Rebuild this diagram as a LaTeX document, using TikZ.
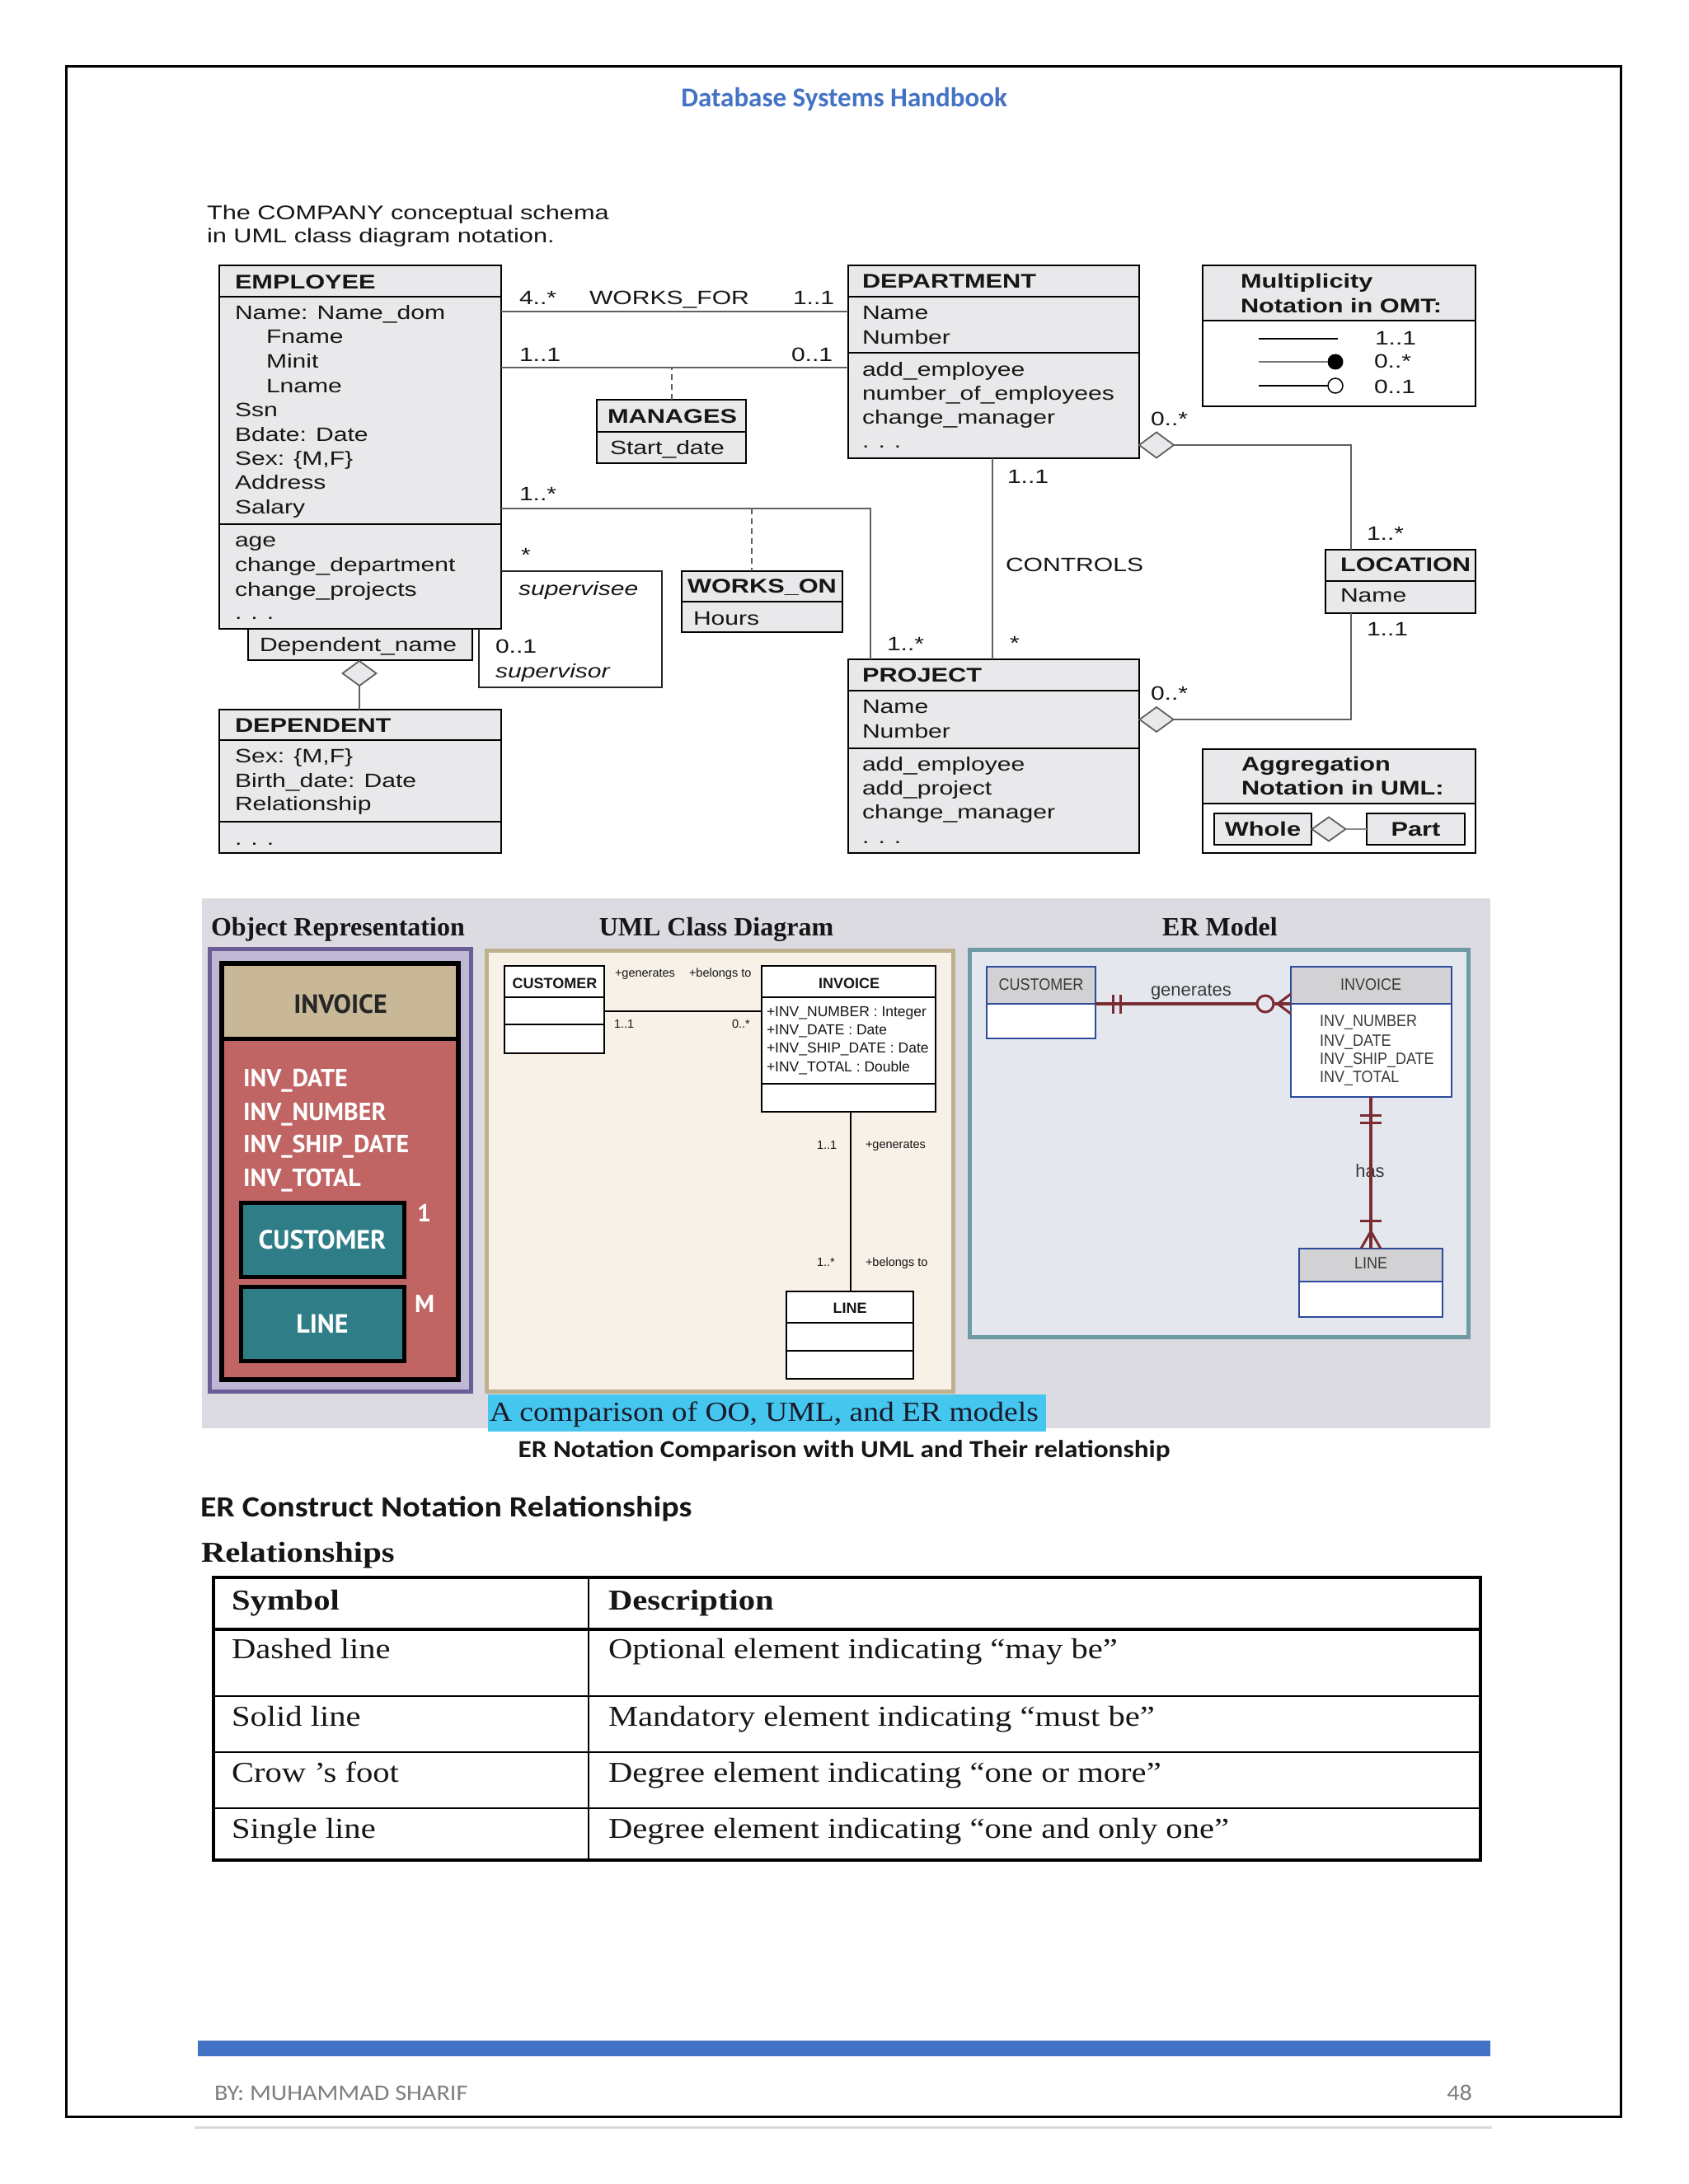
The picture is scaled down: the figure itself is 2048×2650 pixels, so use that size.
\documentclass[tikz,border=0pt]{standalone}
\usepackage{fontspec}
\usetikzlibrary{shapes.geometric}
\setmainfont{Liberation Sans}
\newfontfamily\umlf[FakeStretch=1.28]{Liberation Sans}
\newfontfamily\arf{Liberation Sans}
\newfontfamily\erf[FakeStretch=0.9]{Liberation Sans}
\newfontfamily\serf{Liberation Serif}
\newfontfamily\capf[FakeStretch=1.12]{Liberation Serif}
\newfontfamily\tabf[FakeStretch=1.16]{Liberation Serif}
\newfontfamily\calf{Carlito}
\newfontfamily\calw[FakeStretch=1.12]{Carlito}
\newfontfamily\optf{PT Sans}
\newcommand\fsz[1]{\fontsize{#1}{#1}\selectfont}
\definecolor{umlgray}{HTML}{E9E9EB}
\definecolor{lgray}{HTML}{606060}
\definecolor{txt}{HTML}{161616}
\definecolor{hdrblue}{HTML}{4472C4}
\definecolor{panelbg}{HTML}{DCDBE1}
\definecolor{purpfr}{HTML}{6B5D96}
\definecolor{lav}{HTML}{BEB8D4}
\definecolor{tanc}{HTML}{C8B898}
\definecolor{redb}{HTML}{C06564}
\definecolor{tealc}{HTML}{2F7E87}
\definecolor{cream}{HTML}{F7F1E7}
\definecolor{tanfr}{HTML}{BFB08E}
\definecolor{erbg}{HTML}{E4E8EE}
\definecolor{erfr}{HTML}{6E9AA3}
\definecolor{erblue}{HTML}{2D4B9A}
\definecolor{erhdr}{HTML}{D2D2D4}
\definecolor{erred}{HTML}{7A2C33}
\definecolor{ertxt}{HTML}{3A3A3A}
\definecolor{capblue}{HTML}{45C6EF}
\definecolor{captxt}{HTML}{1A1A2A}
\definecolor{footgray}{HTML}{7F7F7F}
\definecolor{rulegray}{HTML}{D9D9D9}
\tikzset{
  every node/.style={inner sep=0pt, outer sep=0pt, text=txt},
  tl/.style={anchor=base west},
  tc/.style={anchor=base},
  ur/.style={font=\umlf\fsz{23.5}},
  ui/.style={font=\umlf\itshape\fsz{23.5}},
  ub/.style={font=\umlf\bfseries\fsz{24}},
  cls/.style={draw=black, line width=2.2, fill=umlgray, anchor=north west},
  sepl/.style={line width=2.2},
  conn/.style={draw=lgray, line width=2},
  dconn/.style={draw=lgray, line width=2, dash pattern=on 7pt off 5pt},
  agg/.style={draw=lgray, line width=1.8, fill=umlgray, diamond, minimum width=42, minimum height=31},
  ucls/.style={draw=black, line width=2, fill=white, anchor=north west},
  ubt/.style={font=\arf\bfseries\fsz{18}},
  uat/.style={font=\arf\fsz{17.5}},
  usm/.style={font=\arf\fsz{14.5}},
  ent/.style={draw=erblue, line width=2.5, anchor=north west},
  ert/.style={font=\erf\fsz{20}, text=ertxt},
  erl/.style={draw=erred, line width=3.5},
  ob/.style={font=\optf\bfseries\fsz{30}, text=white},
  tabt/.style={font=\tabf\fsz{35}, anchor=base west},
  tabb/.style={font=\tabf\bfseries\fsz{35}, anchor=base west},
}
\newcommand\bx[6][]{\node[cls,#1,minimum width={#4-#2},minimum height={#5-#3}] (#6) at (#2,#3) {};}
\begin{document}
\begin{tikzpicture}[x=1pt,y=-1pt]
\useasboundingbox (0,0) rectangle (2048,2650);
\fill[white] (0,0) rectangle (2048,2650);
\draw[line width=3] (80,80) rectangle (1966,2568);
\node[tc, font=\calf\bfseries\fsz{33}, text=hdrblue] (hdr) at (1024,129) {Database Systems Handbook};

% ---------------- top UML diagram ----------------
\node[tl, font=\umlf\fsz{24}] (cap1) at (251,266) {The COMPANY conceptual schema};
\node[tl, font=\umlf\fsz{24}] (cap2) at (251,294) {in UML class diagram notation.};

% EMPLOYEE
\bx{266}{322}{608}{763}{emp}
\draw[sepl] (emp.west|-0,360) -- (emp.east|-0,360);
\draw[sepl] (emp.west|-0,636) -- (emp.east|-0,636);
\node[ub,tl] (empT) at (285,350) {EMPLOYEE};
\node[ur,tl] (e1) at (285,387) {Name: Name\_dom};
\node[ur,tl] (e2) at (323,416) {Fname};
\node[ur,tl] (e3) at (323,446) {Minit};
\node[ur,tl] (e4) at (323,476) {Lname};
\node[ur,tl] (e5) at (285,505) {Ssn};
\node[ur,tl] (e6) at (285,535) {Bdate: Date};
\node[ur,tl] (e7) at (285,564) {Sex: \{M,F\}};
\node[ur,tl] (e8) at (285,593) {Address};
\node[ur,tl] (e9) at (285,623) {Salary};
\node[ur,tl] (e10) at (285,663) {age};
\node[ur,tl] (e11) at (285,693) {change\_department};
\node[ur,tl] (e12) at (285,723) {change\_projects};
\node[ur,tl] (e13) at (285,751) {. . .};

% Dependent_name qualifier + DEPENDENT
\bx{301}{763}{573}{801}{depn}
\node[ur,tl] (depnT) at (315,790) {Dependent\_name};
\node[agg, minimum width=41, minimum height=30] (dg) at (436,817) {};
\bx{266}{861}{608}{1035}{dep}
\draw[conn] (dg.south) -- (dg.south|-dep.north);
\draw[sepl] (dep.west|-0,898) -- (dep.east|-0,898);
\draw[sepl] (dep.west|-0,997) -- (dep.east|-0,997);
\node[ub,tl] (depT) at (285,888) {DEPENDENT};
\node[ur,tl] (d1) at (285,925) {Sex: \{M,F\}};
\node[ur,tl] (d2) at (285,955) {Birth\_date: Date};
\node[ur,tl] (d3) at (285,983) {Relationship};
\node[ur,tl] (d4) at (285,1025) {. . .};

% DEPARTMENT
\bx{1029}{322}{1382}{556}{dept}
\draw[sepl] (dept.west|-0,360) -- (dept.east|-0,360);
\draw[sepl] (dept.west|-0,428) -- (dept.east|-0,428);
\node[ub,tl] (deptT) at (1046,349) {DEPARTMENT};
\node[ur,tl] (p1) at (1046,387) {Name};
\node[ur,tl] (p2) at (1046,417) {Number};
\node[ur,tl] (p3) at (1046,456) {add\_employee};
\node[ur,tl] (p4) at (1046,485) {number\_of\_employees};
\node[ur,tl] (p5) at (1046,514) {change\_manager};
\node[ur,tl] (p6) at (1046,543) {. . .};

% PROJECT
\bx{1029}{800}{1382}{1035}{proj}
\draw[sepl] (proj.west|-0,838) -- (proj.east|-0,838);
\draw[sepl] (proj.west|-0,908) -- (proj.east|-0,908);
\node[ub,tl] (projT) at (1046,827) {PROJECT};
\node[ur,tl] (q1) at (1046,865) {Name};
\node[ur,tl] (q2) at (1046,895) {Number};
\node[ur,tl] (q3) at (1046,935) {add\_employee};
\node[ur,tl] (q4) at (1046,964) {add\_project};
\node[ur,tl] (q5) at (1046,993) {change\_manager};
\node[ur,tl] (q6) at (1046,1023) {. . .};

% MANAGES, WORKS_ON association classes
\bx{724}{485}{905}{562}{mgr}
\draw[sepl] (mgr.west|-0,524) -- (mgr.east|-0,524);
\node[ub,tl] (mgrT) at (737,513) {MANAGES};
\node[ur,tl] (mgrA) at (740,551) {Start\_date};
\bx{827}{693}{1022}{767}{won}
\draw[sepl] (won.west|-0,730) -- (won.east|-0,730);
\node[ub,tl] (wonT) at (834,719) {WORKS\_ON};
\node[ur,tl] (wonA) at (841,758) {Hours};

% LOCATION
\bx{1608}{667}{1790}{744}{loc}
\draw[sepl] (loc.west|-0,705) -- (loc.east|-0,705);
\node[ub,tl] (locT) at (1626,693) {LOCATION};
\node[ur,tl] (locA) at (1626,730) {Name};

% aggregation diamonds
\node[agg] (dag) at (1403,540) {};
\node[agg, minimum width=41, minimum height=30] (pag) at (1403,873) {};

% associations
\draw[conn] (emp.east|-0,378) -- (dept.west|-0,378);
\node[ur,tl] (wf1) at (630,369) {4..*};
\node[ur,tl] (wf2) at (715,369) {WORKS\_FOR};
\node[ur,tl] (wf3) at (962,369) {1..1};
\draw[conn] (emp.east|-0,446) -- (dept.west|-0,446);
\node[ur,tl] (mg1) at (630,438) {1..1};
\node[ur,tl] (mg2) at (960,438) {0..1};
\draw[dconn] (mgr.north) -- (mgr.north|-0,446);
\draw[conn] (emp.east|-0,617) -| (proj.north-|1056,0);
\node[ur,tl] (wo1) at (630,607) {1..*};
\node[ur,tl] (wo2) at (1076,789) {1..*};
\coordinate (wod) at (912,617);
\draw[dconn] (wod) -- (won.north-|wod);
\coordinate (supc) at (803,834);
\draw[draw=black!85, line width=1.6] (emp.east|-0,693) -| (supc) -| (emp.south-|581,0);
\node[ur] (sv0) at (638,673) {*};
\node[ui,tl] (sv1) at (629,722) {supervisee};
\node[ur,tl] (sv2) at (601,792) {0..1};
\node[ui,tl] (sv3) at (601,822) {supervisor};
\draw[conn] (dept.south-|1204,0) -- (proj.north-|1204,0);
\node[ur,tl] (ct1) at (1222,586) {1..1};
\node[ur,tl] (ct2) at (1220,693) {CONTROLS};
\node[ur] (ct3) at (1231,780) {*};
\draw[conn] (dag.east) -| (loc.north-|1639,0);
\draw[conn] (pag.east) -| (loc.south-|1639,0);
\node[ur,tl] (lc1) at (1396,516) {0..*};
\node[ur,tl] (lc2) at (1658,655) {1..*};
\node[ur,tl] (lc3) at (1658,771) {1..1};
\node[ur,tl] (lc4) at (1396,849) {0..*};

% Multiplicity legend
\fill[umlgray] (1459,322) rectangle (1790,389);
\bx[fill=none]{1459}{322}{1790}{493}{mult}
\draw[sepl] (mult.west|-0,389) -- (mult.east|-0,389);
\node[ub,tl] (mu1) at (1505,349) {Multiplicity};
\node[ub,tl] (mu2) at (1505,379) {Notation in OMT:};
\coordinate (ml1) at (1527,411);
\coordinate (ml2) at (1527,439);
\coordinate (ml3) at (1527,468);
\draw[line width=1.6] (ml1) -- (1623,411);
\node[circle, fill=black, minimum size=19] (fcirc) at (1620,439) {};
\draw[line width=1.8, draw=black!55] (ml2) -- (fcirc.west);
\node[circle, draw=black, line width=1.5, fill=white, minimum size=18] (ocirc) at (1620,468) {};
\draw[line width=1.6] (ml3) -- (ocirc.west);
\node[ur,tl] (mt1) at (1668,418) {1..1};
\node[ur,tl] (mt2) at (1667,446) {0..*};
\node[ur,tl] (mt3) at (1667,477) {0..1};

% Aggregation legend
\fill[umlgray] (1459,909) rectangle (1790,975);
\bx[fill=none]{1459}{909}{1790}{1035}{aggl}
\draw[sepl] (aggl.west|-0,975) -- (aggl.east|-0,975);
\node[ub,tl] (ag1) at (1506,935) {Aggregation};
\node[ub,tl] (ag2) at (1506,964) {Notation in UML:};
\bx{1473}{987}{1591}{1025}{whole}
\node[ub] (wholeT) at (whole) {Whole};
\node[agg, minimum width=41, minimum height=29] (wdia) at (1612,1006) {};
\bx{1658}{987}{1777}{1025}{part}
\node[ub] (partT) at (part) {Part};
\draw[draw=black!45, line width=2.5] (wdia.east) -- (part.west);

% ---------------- comparison panel ----------------
\fill[panelbg] (245,1090) rectangle (1808,1733);
\node[tl, font=\serf\bfseries\fsz{32}] (t1) at (256,1135) {Object Representation};
\node[tc, font=\serf\bfseries\fsz{32}] (t2) at (869,1135) {UML Class Diagram};
\node[tc, font=\serf\bfseries\fsz{32}] (t3) at (1480,1135) {ER Model};

% object representation
\draw[line width=5, draw=purpfr, fill=lav] (254,1151) rectangle (571,1688);
\fill[redb] (269,1169) rectangle (556,1674);
\fill[tanc] (269,1169) rectangle (556,1260);
\draw[line width=5] (269,1260) -- (556,1260);
\draw[line width=6] (269,1169) rectangle (556,1674);
\node[tc, font=\optf\bfseries\fsz{32}, text=black!85] (oinv) at (413,1229) {INVOICE};
\node[ob,tl] (oa1) at (295,1318) {INV\_DATE};
\node[ob,tl] (oa2) at (295,1359) {INV\_NUMBER};
\node[ob,tl] (oa3) at (295,1398) {INV\_SHIP\_DATE};
\node[ob,tl] (oa4) at (295,1439) {INV\_TOTAL};
\node[draw=black, line width=5, fill=tealc, minimum width=198, minimum height=90, font=\optf\bfseries\fsz{32}, text=white] (ocust) at (391,1504) {CUSTOMER};
\node[draw=black, line width=5, fill=tealc, minimum width=198, minimum height=90, font=\optf\bfseries\fsz{32}, text=white] (oline) at (391,1606) {LINE};
\node[ob,tl] (o1) at (506,1482) {1};
\node[ob,tl] (oM) at (503,1592) {M};

% UML class diagram
\draw[line width=5, draw=tanfr, fill=cream] (590,1153) rectangle (1156,1688);
\node[ucls, minimum width=121, minimum height=106] (ucust) at (612,1172) {};
\draw[line width=2] (ucust.west|-0,1210) -- (ucust.east|-0,1210);
\draw[line width=2] (ucust.west|-0,1243) -- (ucust.east|-0,1243);
\node[ubt,tc] (ucustT) at (673,1199) {CUSTOMER};
\node[ucls, minimum width=211, minimum height=177] (uinv) at (924,1172) {};
\draw[line width=2] (uinv.west|-0,1210) -- (uinv.east|-0,1210);
\draw[line width=2] (uinv.west|-0,1315) -- (uinv.east|-0,1315);
\node[ubt,tc] (uinvT) at (1030,1199) {INVOICE};
\node[uat,tl] (ua1) at (930,1233) {+INV\_NUMBER : Integer};
\node[uat,tl] (ua2) at (930,1255) {+INV\_DATE : Date};
\node[uat,tl] (ua3) at (930,1277) {+INV\_SHIP\_DATE : Date};
\node[uat,tl] (ua4) at (930,1300) {+INV\_TOTAL : Double};
\node[ucls, minimum width=154, minimum height=106] (uline) at (954,1567) {};
\draw[line width=2] (uline.west|-0,1605) -- (uline.east|-0,1605);
\draw[line width=2] (uline.west|-0,1639) -- (uline.east|-0,1639);
\node[ubt,tc] (ulineT) at (1031,1593) {LINE};
\draw[line width=1.8] (ucust.east|-0,1227) -- (uinv.west|-0,1227);
\draw[line width=1.8] (uinv.south-|1032,0) -- (uline.north-|1032,0);
\node[usm,tl] (ul1) at (746,1185) {+generates};
\node[usm,tl] (ul2) at (836,1185) {+belongs to};
\node[usm,tl] (ul3) at (745,1247) {1..1};
\node[usm,tl] (ul4) at (888,1247) {0..*};
\node[usm,tl] (ul5) at (991,1394) {1..1};
\node[usm,tl] (ul6) at (1050,1393) {+generates};
\node[usm,tl] (ul7) at (991,1536) {1..*};
\node[usm,tl] (ul8) at (1050,1536) {+belongs to};

% ER model
\draw[line width=5, draw=erfr, fill=erbg] (1176,1152) rectangle (1781,1622);
\fill[white] (1197,1173) rectangle (1329,1260);
\fill[erhdr] (1197,1173) rectangle (1329,1218);
\node[ent, minimum width=132, minimum height=87] (ecust) at (1197,1173) {};
\draw[erblue, line width=2.5] (ecust.west|-0,1218) -- (ecust.east|-0,1218);
\node[ert,tc] (ecustT) at (1263,1201) {CUSTOMER};
\fill[white] (1566,1173) rectangle (1761,1331);
\fill[erhdr] (1566,1173) rectangle (1761,1218);
\node[ent, minimum width=195, minimum height=158] (einv) at (1566,1173) {};
\draw[erblue, line width=2.5] (einv.west|-0,1218) -- (einv.east|-0,1218);
\node[ert,tc] (einvT) at (1663,1201) {INVOICE};
\node[ert,tl] (ea1) at (1601,1245) {INV\_NUMBER};
\node[ert,tl] (ea2) at (1601,1269) {INV\_DATE};
\node[ert,tl] (ea3) at (1601,1291) {INV\_SHIP\_DATE};
\node[ert,tl] (ea4) at (1601,1313) {INV\_TOTAL};
\fill[white] (1576,1515) rectangle (1750,1598);
\fill[erhdr] (1576,1515) rectangle (1750,1555);
\node[ent, minimum width=174, minimum height=83] (eline) at (1576,1515) {};
\draw[erblue, line width=2.5] (eline.west|-0,1555) -- (eline.east|-0,1555);
\node[ert,tc] (elineT) at (1663,1539) {LINE};
\node[tl, font=\arf\fsz{22}, text=ertxt] (egen) at (1396,1208) {generates};
\node[tc, font=\arf\fsz{22}, text=ertxt] (ehas) at (1662,1428) {has};
\draw[erl] (ecust.east|-0,1218) -- (einv.west|-0,1218);
\draw[erred, line width=3] (1350,1207) -- (1350,1230) (1359,1207) -- (1359,1230);
\draw[erred, line width=3, fill=erbg] (1535,1218) circle (10pt);
\draw[erred, line width=3] (1550,1218) -- (1566,1206) (1550,1218) -- (1566,1230);
\draw[erl] (einv.south-|1663,0) -- (eline.north-|1663,0);
\draw[erred, line width=3] (1650,1353) -- (1676,1353) (1650,1362) -- (1676,1362) (1650,1481) -- (1676,1481);
\draw[erred, line width=3] (1663,1494) -- (1651,1515) (1663,1494) -- (1675,1515);

% caption
\fill[capblue] (592,1692) rectangle (1269,1737);
\node[tl, font=\capf\fsz{33.5}, text=captxt] (capt) at (594,1724) {A comparison of OO, UML, and ER models};
\node[tc, font=\calw\bfseries\fsz{29.7}] (sub) at (1024,1768) {ER Notation Comparison with UML and Their relationship};

% ---------------- table ----------------
\node[tl, font=\calw\bfseries\fsz{35.6}] (h1) at (243,1840) {ER Construct Notation Relationships};
\node[tabb] (h2) at (244,1895) {Relationships};
\draw[line width=3.5] (259,1914) rectangle (1796,2257);
\draw[line width=3.5] (259,1977) -- (1796,1977);
\draw[line width=2.5] (259,2058) -- (1796,2058);
\draw[line width=2.5] (259,2126) -- (1796,2126);
\draw[line width=2.5] (259,2194) -- (1796,2194);
\draw[line width=2.5] (714,1914) -- (714,2257);
\node[tabb] (c00) at (281,1953) {Symbol};
\node[tabb] (c01) at (738,1953) {Description};
\node[tabt] (c10) at (281,2012) {Dashed line};
\node[tabt] (c11) at (738,2012) {Optional element indicating “may be”};
\node[tabt] (c20) at (281,2094) {Solid line};
\node[tabt] (c21) at (738,2094) {Mandatory element indicating “must be”};
\node[tabt] (c30) at (281,2162) {Crow ’s foot};
\node[tabt] (c31) at (738,2162) {Degree element indicating “one or more”};
\node[tabt] (c40) at (281,2230) {Single line};
\node[tabt] (c41) at (738,2230) {Degree element indicating “one and only one”};

% ---------------- footer ----------------
\fill[hdrblue] (240,2476) rectangle (1808,2495);
\draw[line width=3, draw=rulegray] (236,2581) -- (1810,2581);
\node[tl, font=\calw\fsz{27}, text=footgray] (f1) at (260,2548) {BY: MUHAMMAD SHARIF};
\node[anchor=base east, font=\calw\fsz{27}, text=footgray] (f2) at (1786,2548) {48};
\end{tikzpicture}
\end{document}
